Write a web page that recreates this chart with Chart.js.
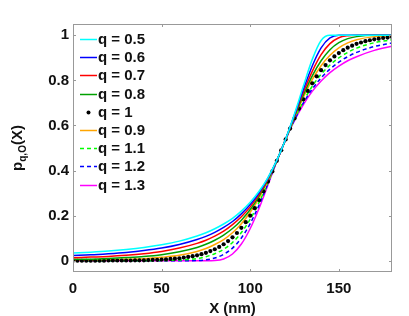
<!DOCTYPE html>
<html>
<head>
<meta charset="utf-8">
<script src="https://cdn.jsdelivr.net/npm/chart.js@4.4.1/dist/chart.umd.min.js"></script>
<style>
  html, body { margin: 0; padding: 0; background: #fff; }
  #wrap { width: 409px; height: 316px; }
</style>
</head>
<body>
<div id="wrap"><canvas id="chart" width="409" height="316"></canvas></div>
<script>
/* ---------------------------------------------------------
   q-sigmoid curves p_{q,O}(X)
--------------------------------------------------------- */

var FONT = "'Liberation Sans', Arial, Helvetica, sans-serif";

// x positions used for the line series (nm)
var X_GRID = [0, 10, 20, 30, 40, 50, 60, 70, 75, 80, 85, 90, 95, 100, 105, 110, 115,
  120, 125, 130, 135, 140, 145, 150, 155, 160, 170, 180];

// x positions of the q = 1 markers (nm)
var X_DOTS = [0, 2.5, 5, 7.5, 10, 12.5, 15, 17.5, 20, 22.5, 25, 27.5, 30, 32.5, 35, 37.5,
  40, 42.5, 45, 47.5, 50, 52.5, 55, 57.5, 60, 62.5, 65, 67.5, 70, 72.5, 75, 77.5,
  80, 82.5, 85, 87.5, 90, 92.5, 95, 97.5, 100, 102.5, 105, 107.5, 110, 112.5, 115, 117.5,
  120, 122.5, 125, 127.5, 130, 132.5, 135, 137.5, 140, 142.5, 145, 147.5, 150, 152.5, 155, 157.5,
  160, 162.5, 165, 167.5, 170, 172.5, 175, 177.5, 180];

var P_05 = [0.034, 0.038, 0.043, 0.050, 0.059, 0.071, 0.087, 0.110, 0.124, 0.142, 0.163, 0.188, 0.220, 0.259,
  0.308, 0.369, 0.446, 0.540, 0.652, 0.775, 0.893, 0.977, 1, 1, 1, 1, 1, 1];
var P_06 = [0.023, 0.026, 0.031, 0.037, 0.045, 0.056, 0.072, 0.094, 0.108, 0.126, 0.148, 0.174, 0.208, 0.249,
  0.301, 0.366, 0.445, 0.540, 0.647, 0.760, 0.864, 0.944, 0.988, 1, 1, 1, 1, 1];
var P_07 = [0.013, 0.016, 0.019, 0.024, 0.031, 0.041, 0.056, 0.077, 0.091, 0.109, 0.131, 0.160, 0.195, 0.239,
  0.294, 0.362, 0.445, 0.539, 0.643, 0.747, 0.840, 0.914, 0.963, 0.989, 0.998, 1, 1, 1];
var P_08 = [0.006, 0.007, 0.010, 0.014, 0.019, 0.027, 0.040, 0.059, 0.073, 0.091, 0.114, 0.143, 0.180, 0.227,
  0.287, 0.359, 0.444, 0.539, 0.639, 0.735, 0.820, 0.887, 0.936, 0.967, 0.985, 0.994, 1, 1];
var P_09 = [0.002, 0.002, 0.004, 0.006, 0.009, 0.015, 0.024, 0.041, 0.054, 0.072, 0.094, 0.124, 0.164, 0.215,
  0.278, 0.355, 0.443, 0.539, 0.635, 0.725, 0.803, 0.865, 0.911, 0.944, 0.966, 0.980, 0.994, 0.998];
var P_10 = [0, 0, 0, 0, 0, 0, 0, 0, 0.001, 0.001, 0.001, 0.001, 0.001, 0.001, 0.002, 0.002,
  0.002, 0.003, 0.004, 0.004, 0.005, 0.006, 0.008, 0.009, 0.011, 0.014, 0.017, 0.020, 0.024, 0.029, 0.035, 0.043,
  0.051, 0.061, 0.073, 0.087, 0.104, 0.123, 0.146, 0.171, 0.200, 0.233, 0.269, 0.308, 0.351, 0.396, 0.443, 0.490,
  0.538, 0.586, 0.631, 0.675, 0.716, 0.753, 0.787, 0.818, 0.845, 0.868, 0.889, 0.906, 0.921, 0.934, 0.945, 0.954,
  0.962, 0.968, 0.974, 0.978, 0.982, 0.985, 0.988, 0.990, 0.992];
var P_11 = [0, 0, 0, 0, 0, 0.001, 0.003, 0.010, 0.018, 0.031, 0.051, 0.081, 0.125, 0.184,
  0.259, 0.346, 0.442, 0.538, 0.628, 0.707, 0.774, 0.827, 0.868, 0.900, 0.924, 0.943, 0.967, 0.980];
var P_12 = [0, 0, 0, 0, 0, 0, 0, 0.001, 0.004, 0.012, 0.028, 0.056, 0.101, 0.165,
  0.247, 0.342, 0.441, 0.538, 0.625, 0.700, 0.762, 0.811, 0.850, 0.881, 0.905, 0.924, 0.950, 0.966];
var P_13 = [0, 0, 0, 0, 0, 0, 0, 0, 0, 0.001, 0.008, 0.030, 0.074, 0.143,
  0.233, 0.336, 0.441, 0.538, 0.622, 0.693, 0.751, 0.797, 0.834, 0.863, 0.887, 0.905, 0.933, 0.951];

var X_TICKS = [0, 50, 100, 150];
var Y_TICKS = [0, 0.2, 0.4, 0.6, 0.8, 1];

function pts(xs, ys) {
  return xs.map(function (x, i) { return { x: x, y: ys[i] }; });
}

function lineSet(label, ys, color, dash) {
  return {
    label: label,
    data: pts(X_GRID, ys),
    showLine: true,
    borderColor: color,
    backgroundColor: color,
    borderWidth: 1.5,
    borderDash: dash || [],
    pointRadius: 0,
    fill: false,
    cubicInterpolationMode: 'monotone'
  };
}

// legend order = dataset order
var datasets = [
  lineSet('q = 0.5', P_05, '#00FFFF'),
  lineSet('q = 0.6', P_06, '#0000FF'),
  lineSet('q = 0.7', P_07, '#FF0000'),
  lineSet('q = 0.8', P_08, '#00A000'),
  {
    label: 'q = 1',
    data: pts(X_DOTS, P_10),
    showLine: false,
    pointRadius: 2.1,
    pointBorderWidth: 0,
    pointBackgroundColor: '#000',
    borderColor: '#000',
    backgroundColor: '#000'
  },
  lineSet('q = 0.9', P_09, '#FFA500'),
  lineSet('q = 1.1', P_11, '#00FF00', [4, 3]),
  lineSet('q = 1.2', P_12, '#0000FF', [4, 3]),
  lineSet('q = 1.3', P_13, '#FF00FF')
];

/* box, inward ticks, legend and y title (MATLAB look) */
var matlabAxes = {
  id: 'matlabAxes',
  afterDatasetsDraw: function (chart) {
    var ctx = chart.ctx;
    var a = chart.chartArea;
    var xs = chart.scales.x, ys = chart.scales.y;
    ctx.save();
    ctx.strokeStyle = '#999';
    ctx.lineWidth = 1;
    ctx.strokeRect(a.left + 0.5, a.top + 0.5, a.right - a.left - 1, a.bottom - a.top - 1);
    ctx.beginPath();
    X_TICKS.forEach(function (v) {
      var px = Math.round(xs.getPixelForValue(v)) + 0.5;
      ctx.moveTo(px, a.bottom); ctx.lineTo(px, a.bottom - 3);
      ctx.moveTo(px, a.top); ctx.lineTo(px, a.top + 3);
    });
    Y_TICKS.forEach(function (v) {
      var py = Math.round(ys.getPixelForValue(v)) + 0.5;
      ctx.moveTo(a.left, py); ctx.lineTo(a.left + 3, py);
      ctx.moveTo(a.right, py); ctx.lineTo(a.right - 3, py);
    });
    ctx.stroke();
    ctx.restore();
  },
  afterDraw: function (chart) {
    var ctx = chart.ctx;
    ctx.save();
    // legend
    ctx.font = 'bold 15px ' + FONT;
    ctx.textBaseline = 'middle';
    chart.data.datasets.forEach(function (ds, i) {
      var y = Math.round(39 + i * 18.2) + 0.5;
      if (ds.showLine === false) {
        ctx.fillStyle = ds.pointBackgroundColor;
        ctx.beginPath();
        ctx.arc(88.5, y, 2, 0, Math.PI * 2);
        ctx.fill();
      } else {
        ctx.strokeStyle = ds.borderColor;
        ctx.lineWidth = 1.5;
        ctx.setLineDash(ds.borderDash);
        ctx.beginPath();
        ctx.moveTo(80, y); ctx.lineTo(97, y);
        ctx.stroke();
        ctx.setLineDash([]);
      }
      ctx.fillStyle = '#111';
      ctx.fillText(ds.label, 98, y + 0.5);
    });

    // y title: p_{q,O}(X)
    ctx.translate(17, 148);
    ctx.rotate(-Math.PI / 2);
    var big = 'bold 15px ' + FONT, small = 'bold 10px ' + FONT;
    ctx.font = big; var w1 = ctx.measureText('p').width, w3 = ctx.measureText('(X)').width;
    ctx.font = small; var w2 = ctx.measureText('q,O').width;
    var x0 = -(w1 + w2 + w3) / 2;
    ctx.textBaseline = 'alphabetic';
    ctx.fillStyle = '#111';
    ctx.font = big; ctx.fillText('p', x0, 5);
    ctx.font = small; ctx.fillText('q,O', x0 + w1, 9);
    ctx.font = big; ctx.fillText('(X)', x0 + w1 + w2, 5);
    ctx.restore();
  }
};

new Chart(document.getElementById('chart'), {
  type: 'scatter',
  data: { datasets: datasets },
  options: {
    responsive: false,
    animation: false,
    layout: { padding: { top: 24, right: 17, left: 0, bottom: 0 } },
    plugins: {
      legend: { display: false },
      tooltip: { enabled: false }
    },
    scales: {
      x: {
        type: 'linear',
        min: 0,
        max: 180,
        afterBuildTicks: function (s) { s.ticks = X_TICKS.map(function (v) { return { value: v }; }); },
        afterFit: function (s) { s.height = 44; },
        grid: { display: false, drawTicks: false },
        border: { display: false },
        ticks: { color: '#111', padding: 8, maxRotation: 0, font: { family: FONT, size: 15, weight: 'bold' },
          callback: function (v) { return String(v); } },
        title: { display: true, text: 'X (nm)', color: '#111', padding: { top: 0, bottom: -2 },
          font: { family: FONT, size: 15, weight: 'bold' } }
      },
      y: {
        type: 'linear',
        min: -0.05,
        max: 1.05,
        afterBuildTicks: function (s) { s.ticks = Y_TICKS.map(function (v) { return { value: v }; }); },
        afterFit: function (s) { s.width = 73; },
        grid: { display: false, drawTicks: false },
        border: { display: false },
        ticks: { color: '#111', padding: 4, font: { family: FONT, size: 15, weight: 'bold' },
          callback: function (v) { return String(v); } }
      }
    }
  },
  plugins: [matlabAxes]
});
</script>
</body>
</html>
